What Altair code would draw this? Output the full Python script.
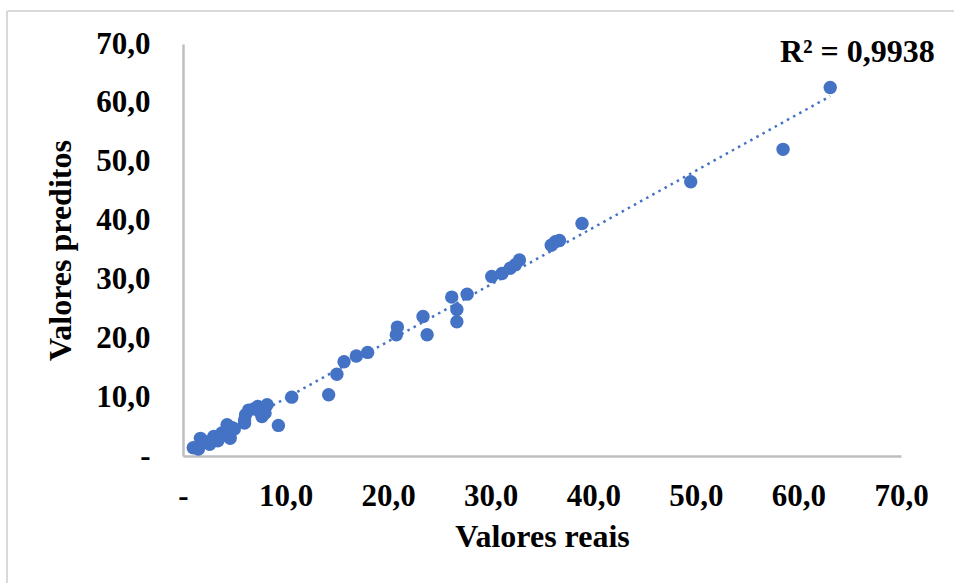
import altair as alt
import pandas as pd

# Values
reais = [1.0, 1.5, 1.7, 1.9, 2.3, 2.6, 3.0, 3.4, 3.8, 4.0, 4.3, 4.6, 4.8, 5.0,
         6.0, 6.0, 6.1, 6.4, 6.9, 7.3, 7.7, 8.0, 8.2, 9.3, 10.6,
         14.2, 15.0, 15.7, 16.9, 18.0, 20.8, 20.9, 23.4, 23.8,
         26.2, 26.7, 26.7, 27.7, 30.1, 31.1, 31.9, 32.4, 32.8,
         35.9, 36.3, 36.7, 38.9, 49.5, 58.5, 63.1]
preditos = [1.4, 1.2, 3.0, 2.2, 2.4, 2.0, 3.3, 2.6, 3.9, 3.5, 5.3, 3.0, 4.8, 4.6,
            5.6, 6.1, 7.0, 7.8, 8.0, 8.4, 6.7, 7.3, 8.7, 5.2, 10.0,
            10.4, 13.9, 16.0, 17.0, 17.6, 20.6, 21.9, 23.7, 20.6,
            27.0, 24.9, 22.8, 27.5, 30.5, 31.0, 31.9, 32.5, 33.3,
            35.8, 36.4, 36.6, 39.5, 46.6, 52.1, 62.6]

tick_values = [0, 10, 20, 30, 40, 50, 60, 70]
r2_label = ["R² = 0,9938"]
r2_x = [73.3]
r2_y = [68.6]

df = pd.DataFrame({"reais": reais, "preditos": preditos})
ann = pd.DataFrame({"t": r2_label, "x": r2_x, "y": r2_y})

FONT = "Liberation Serif"
BLUE = "#4472C4"
label_expr = ("datum.value == 0 ? '-\u00a0' : "
              "replace(format(datum.value, '.1f'), '.', ',')")

xscale = alt.Scale(domain=[0, 70], nice=False, zero=True)
yscale = alt.Scale(domain=[0, 70], nice=False, zero=True)

xaxis = alt.Axis(values=tick_values, labelExpr=label_expr, title="Valores reais",
                 grid=False, ticks=False, tickSize=0, labelPadding=25,
                 titlePadding=10, labelFlush=False, labelOverlap=False)
yaxis = alt.Axis(values=tick_values, labelExpr=label_expr, title="Valores preditos",
                 grid=False, ticks=False, tickSize=0, labelPadding=33,
                 titlePadding=18, labelOverlap=False)

points = alt.Chart(df).mark_circle(size=180, color=BLUE, opacity=1).encode(
    x=alt.X("reais:Q", scale=xscale, axis=xaxis),
    y=alt.Y("preditos:Q", scale=yscale, axis=yaxis),
)

trend = alt.Chart(df).transform_regression("reais", "preditos").mark_line(
    color=BLUE, strokeWidth=2.5, strokeDash=[2.5, 4.5]
).encode(
    x=alt.X("reais:Q", scale=xscale),
    y=alt.Y("preditos:Q", scale=yscale),
)

r2 = alt.Chart(ann).mark_text(
    font=FONT, fontSize=32, fontWeight="bold", align="right", baseline="middle",
    color="black"
).encode(
    x=alt.X("x:Q", scale=xscale),
    y=alt.Y("y:Q", scale=yscale),
    text="t:N",
)

border_top = alt.Chart(ann).mark_rule(color="#D9D9D9", strokeWidth=2).encode(
    x=alt.value(-176), x2=alt.value(771), y=alt.value(-33)
)
border_left = alt.Chart(ann).mark_rule(color="#D9D9D9", strokeWidth=2).encode(
    x=alt.value(-176), y=alt.value(-33), y2=alt.value(539)
)

chart = alt.layer(border_top, border_left, trend, points, r2).properties(
    width=718, height=412,
    autosize=alt.AutoSizeParams(type="none"),
    padding={"left": 183, "top": 44, "right": 53, "bottom": 127},
    background="white",
).configure_view(stroke=None).configure_axis(
    labelFont=FONT, labelFontSize=31, labelFontWeight="bold", labelColor="black",
    titleFont=FONT, titleFontSize=32, titleFontWeight="bold", titleColor="black",
    domainColor="#BFBFBF", domainWidth=2.5,
)

chart.save("out.html", embed_options={"renderer": "svg", "actions": False})
